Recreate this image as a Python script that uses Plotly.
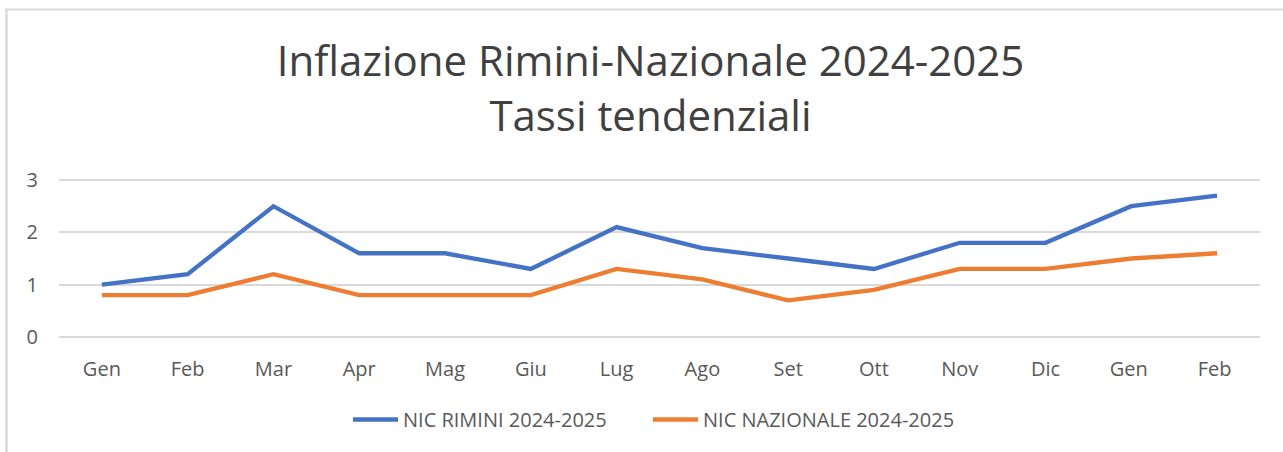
import plotly.graph_objects as go

categories = ["Gen", "Feb", "Mar", "Apr", "Mag", "Giu", "Lug", "Ago", "Set", "Ott", "Nov", "Dic", "Gen ", "Feb "]
rimini = [1.0, 1.2, 2.5, 1.6, 1.6, 1.3, 2.1, 1.7, 1.5, 1.3, 1.8, 1.8, 2.5, 2.7]
nazionale = [0.8, 0.8, 1.2, 0.8, 0.8, 0.8, 1.3, 1.1, 0.7, 0.9, 1.3, 1.3, 1.5, 1.6]
series_names = ["NIC RIMINI 2024-2025", "NIC NAZIONALE 2024-2025"]
y_ticks = [0, 1, 2, 3]

W, H = 1283, 452
L, R, T, B = 59, 23, 179, 114
pw, ph = W - L - R, H - T - B

def px_x(px):
    return (px - L) / pw

def px_y(py):
    return (H - B - py) / ph

fig = go.Figure()
fig.add_trace(go.Scatter(x=categories, y=rimini, mode="lines", name=series_names[0],
                         line=dict(color="#4472C4", width=4.3), legend="legend"))
fig.add_trace(go.Scatter(x=categories, y=nazionale, mode="lines", name=series_names[1],
                         line=dict(color="#ED7D31", width=4.3), legend="legend2"))

legend_font = dict(family="Open Sans", size=20, color="#595959")

fig.update_layout(
    width=W, height=H,
    margin=dict(l=L, r=R, t=T, b=B),
    paper_bgcolor="white", plot_bgcolor="white",
    title=dict(text="Inflazione Rimini-Nazionale 2024-2025<br>Tassi tendenziali",
               x=0.507, xanchor="center", y=1 - 76 / H, yanchor="top",
               font=dict(family="Open Sans", size=42, color="#404040")),
    showlegend=True,
    legend=dict(orientation="h", x=px_x(348), xanchor="left", y=px_y(400), yanchor="top",
                font=legend_font, itemwidth=45, bgcolor="rgba(0,0,0,0)"),
    legend2=dict(orientation="h", x=px_x(648), xanchor="left", y=px_y(400), yanchor="top",
                 font=legend_font, itemwidth=45, bgcolor="rgba(0,0,0,0)"),
    xaxis=dict(type="category", showgrid=False, showline=False, zeroline=False,
               ticks="outside", ticklen=13, tickcolor="rgba(0,0,0,0)",
               tickfont=dict(family="Open Sans", size=20, color="#595959"),
               range=[-0.5, len(categories) - 0.5]),
    yaxis=dict(range=[-0.02, 3.02], tickvals=y_ticks, showgrid=True, gridcolor="#D9D9D9", gridwidth=2,
               zeroline=False, showline=False, ticks="outside", ticklen=16,
               tickcolor="rgba(0,0,0,0)",
               tickfont=dict(family="Open Sans", size=20, color="#595959")),
    shapes=[
        dict(type="line", xref="paper", yref="paper", x0=px_x(5), x1=px_x(1290),
             y0=px_y(9.5), y1=px_y(9.5), line=dict(color="#D9D9D9", width=2)),
        dict(type="line", xref="paper", yref="paper", x0=px_x(6.5), x1=px_x(6.5),
             y0=px_y(9.5), y1=px_y(460), line=dict(color="#D9D9D9", width=2.5)),
    ],
)

fig.write_html("out.html", config={"displayModeBar": False},
               post_script="document.body.style.margin='0';")
